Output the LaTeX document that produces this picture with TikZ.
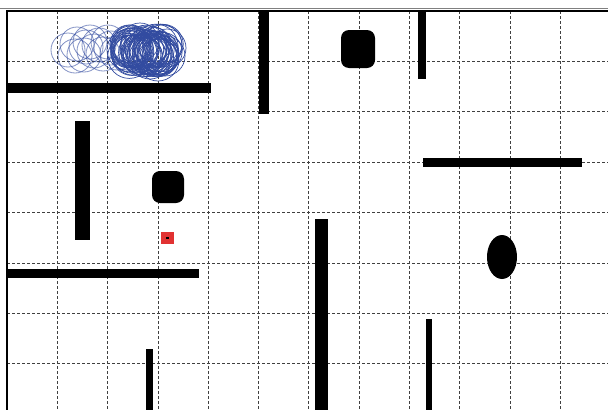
\documentclass[tikz,border=0pt]{standalone}
\definecolor{trailblue}{RGB}{50,75,160}
\definecolor{markred}{RGB}{225,50,50}
\begin{document}
\begin{tikzpicture}[x=1pt,y=-1pt,
  obst/.style={fill=black,draw=none},
  rbox/.style={fill=black,draw=none,rounded corners=8pt},
  gridline/.style={line width=0.8pt,black!75,dash pattern=on 3pt off 2pt},
  blob/.style={draw=trailblue,line width=0.7pt},
  lightblob/.style={draw=trailblue,draw opacity=0.6,line width=0.8pt}]
\useasboundingbox (0,0) rectangle (608,410);
\fill[white] (0,0) rectangle (608,410);
% grid
\foreach \k in {1,...,11} {
  \draw[gridline] ({7+50.3*\k},11) -- ({7+50.3*\k},410);
}
\foreach \k in {1,...,7} {
  \draw[gridline] (7,{11+50.4*\k}) -- (608,{11+50.4*\k});
}
% frame
\draw[gray,line width=0.8pt] (0,8) -- (608,8);
\draw[black,line width=2pt] (6,11) -- (608,11);
\draw[black,line width=2pt] (7,10) -- (7,410);
% obstacles
\fill[obst] (8,83) rectangle (211,93);
\fill[obst] (259,11) rectangle (269,114);
\fill[rbox] (341,30) rectangle (375,68);
\fill[obst] (418,11) rectangle (426,79);
\fill[obst] (75,121) rectangle (90,240);
\fill[rbox] (152,171) rectangle (184,203);
\fill[obst] (8,269) rectangle (199,278);
\fill[obst] (423,158) rectangle (582,167);
\fill[obst] (315,219) rectangle (328,410);
\fill[obst] (502,257) ellipse [x radius=15, y radius=22];
\fill[obst] (426,319) rectangle (432,410);
\fill[obst] (146,349) rectangle (153,410);
% robot marker
\fill[markred] (161,232) rectangle (174,244);
\fill[black] (166,237) rectangle (169,239);
% trail of circles
\foreach \cx/\cy in {68/50,77/44,86/47,94/51,103/54,111/48,75/56,90/42,99/45,84/55,117/53,108/42} {
  \draw[lightblob] (\cx,\cy) circle (17);
}
\pgfmathsetseed{11}
\foreach \i in {1,...,50} {
  \pgfmathsetmacro\cx{146+18*rand}
  \pgfmathsetmacro\cy{51+7*rand}
  \pgfmathsetmacro\rr{19+3*rand}
  \draw[blob] (\cx,\cy) circle (\rr);
}
\foreach \cx/\cy/\rr in {127/50/20,131/44/19,165/56/20,167/48/19,158/60/21,140/42/19,150/58/21} {
  \draw[blob] (\cx,\cy) circle (\rr);
}
\end{tikzpicture}
\end{document}
